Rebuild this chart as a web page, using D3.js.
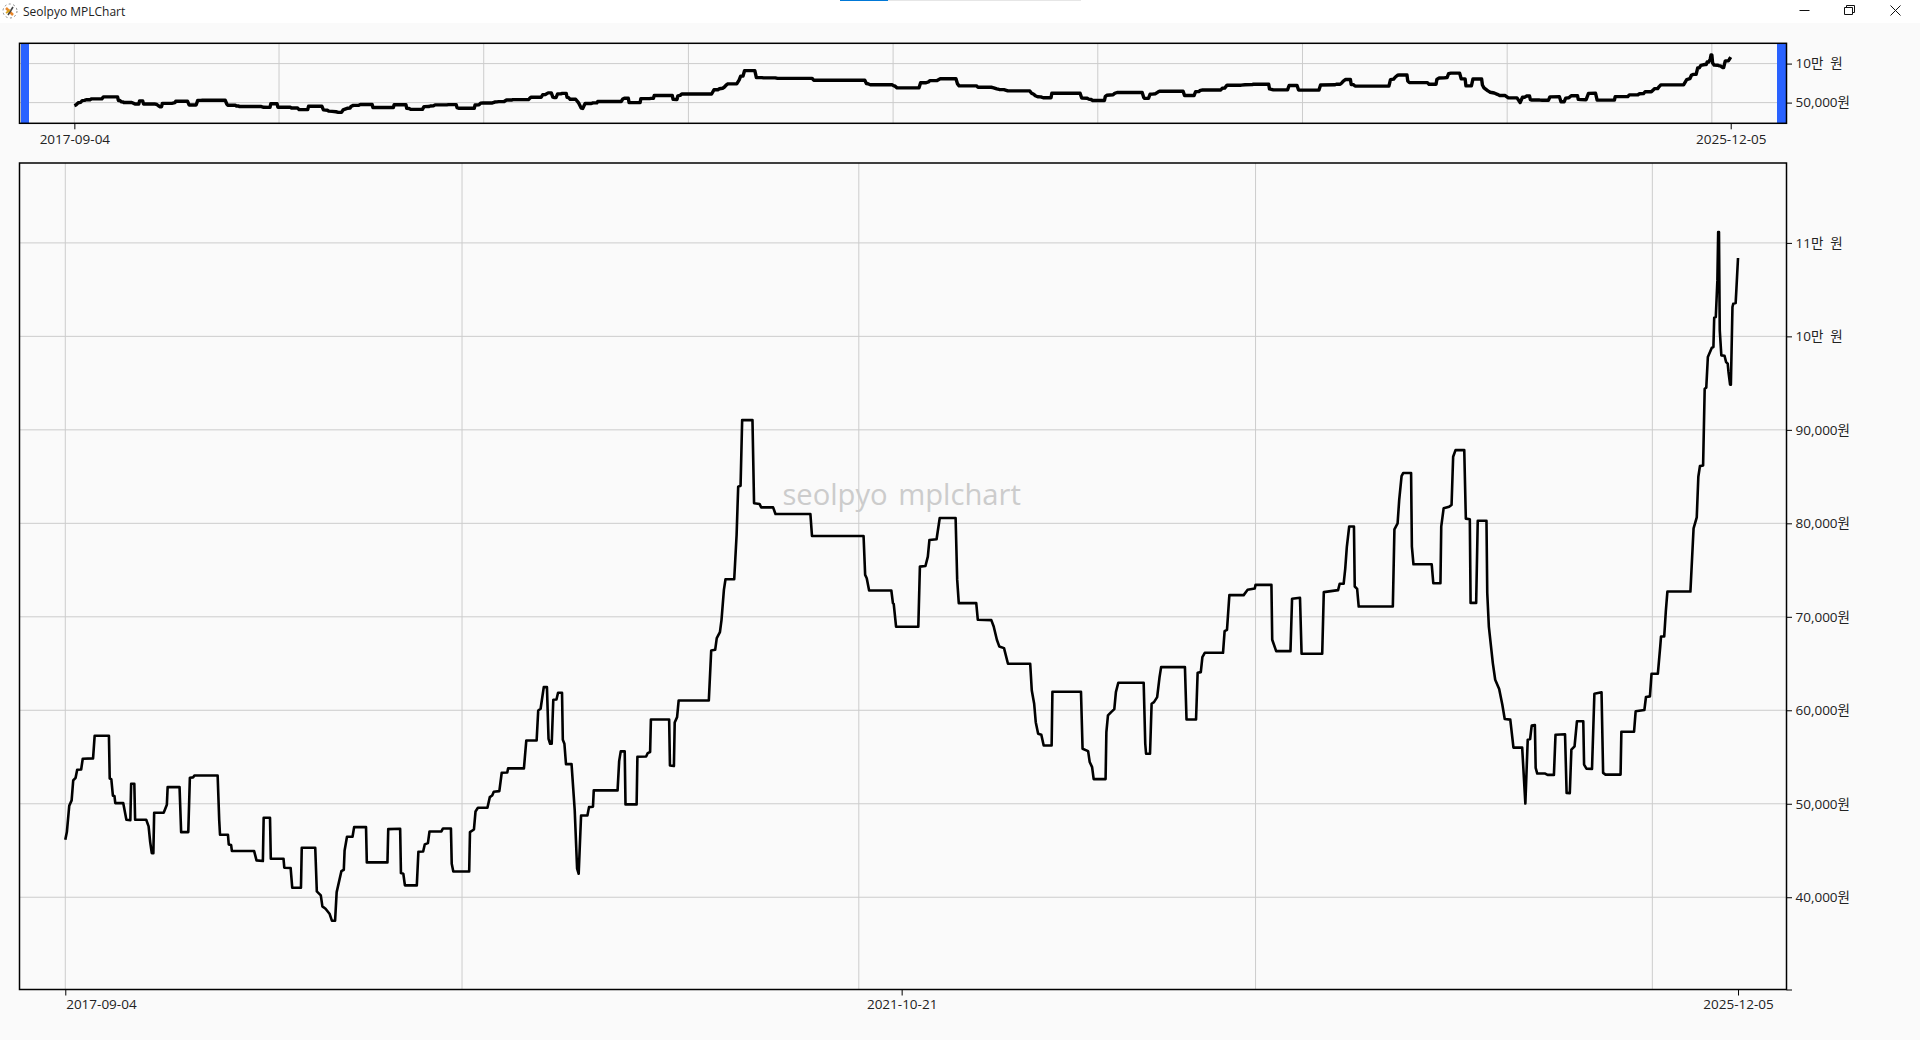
<!DOCTYPE html>
<html><head><meta charset="utf-8">
<script src="https://cdn.jsdelivr.net/npm/d3@7"></script>
<style>
html,body{margin:0;padding:0;background:#fafafa;overflow:hidden}
svg{display:block}
text{font-family:"Open Sans","Noto Sans CJK KR",sans-serif;fill:#222}
</style></head><body><svg id="c" width="1920" height="1040"></svg>
<script>
const appTitle = "Seolpyo MPLChart";
const watermark = "seolpyo mplchart";
const dateLabels = ["2017-09-04", "2021-10-21", "2025-12-05"];
const lastSession = 2108;
const sessions = [0,2,5,8,10,13,15,20,22,35,37,55,56,58,60,62,63,73,77,82,83,87,88,102,105,107,109,111,112,124,128,129,144,146,155,157,161,163,192,194,195,205,206,209,210,238,241,249,250,258,259,275,276,284,286,297,298,315,317,322,324,328,333,336,340,342,348,351,352,355,362,364,379,380,406,407,422,423,426,428,443,445,451,453,457,459,474,476,486,487,489,509,510,515,517,520,532,535,538,540,547,550,557,558,578,579,581,594,596,599,603,607,609,611,613,615,619,621,626,627,629,631,638,642,645,647,650,658,660,665,666,696,698,700,705,706,720,721,732,734,737,738,761,762,767,768,771,773,811,814,819,821,825,827,830,832,843,846,848,851,853,866,868,875,877,892,895,939,941,1006,1008,1010,1013,1041,1043,1044,1047,1075,1077,1084,1087,1089,1098,1102,1122,1124,1126,1148,1150,1167,1170,1174,1177,1183,1188,1216,1218,1221,1223,1226,1230,1233,1243,1244,1280,1282,1289,1291,1294,1296,1311,1312,1314,1318,1322,1324,1327,1359,1361,1362,1367,1369,1372,1376,1379,1381,1411,1413,1425,1427,1431,1433,1436,1459,1461,1464,1467,1485,1490,1499,1500,1520,1521,1526,1544,1546,1556,1558,1584,1586,1604,1606,1611,1613,1615,1618,1624,1625,1628,1630,1673,1675,1679,1681,1684,1686,1696,1697,1699,1722,1724,1733,1734,1737,1744,1747,1749,1752,1763,1765,1770,1771,1778,1780,1791,1792,1794,1799,1802,1807,1811,1814,1821,1825,1836,1840,1843,1846,1848,1852,1853,1855,1865,1868,1876,1878,1890,1892,1896,1898,1902,1905,1913,1914,1917,1924,1927,1936,1938,1941,1960,1961,1977,1979,1990,1992,1997,1999,2007,2010,2011,2015,2017,2019,2048,2052,2056,2058,2060,2064,2066,2068,2070,2075,2077,2078,2080,2082,2083,2084,2085,2087,2091,2093,2095,2096,2098,2099,2101,2102,2105,2106,2108];
const closes = [46150,46970,49790,50360,52500,52780,53640,53670,54810,54850,57270,57270,52710,52640,50860,50820,50070,50070,48290,48250,52140,52140,48290,48290,47580,45900,44720,44720,49040,49040,49890,51780,51780,46970,46970,52780,52820,53030,53030,48220,46680,46680,45650,45580,44940,44940,43940,43870,48500,48500,44120,44120,43160,43120,41020,41020,45290,45290,40620,40200,39020,38770,38240,37490,37490,40550,42800,42940,45010,46470,46470,47500,47500,43730,43730,47290,47330,42580,42510,41270,41270,44870,44900,45650,45790,47040,47040,47360,47360,43580,42760,42760,46970,47250,49180,49570,49570,50710,50890,51280,51350,53320,53350,53780,53780,54810,56770,56770,59980,60160,62480,62480,56950,56420,56420,61120,61160,61870,61870,56840,56420,54240,54240,49290,43050,42510,48750,48750,49640,49680,51430,51430,54560,55600,55600,49930,49930,55030,55060,55420,55530,59020,59020,54100,54030,58700,59270,61050,61050,66400,66470,67720,68360,69680,72880,74020,74020,78750,83920,84020,91040,91040,82140,82060,81710,81710,81000,81000,78650,78650,74480,74130,72810,72810,71460,71380,68930,68930,75370,75440,76440,78220,78290,80570,80570,73950,71460,71460,69680,69640,68960,67540,66830,66650,64980,64980,62120,60700,58730,57490,57380,56240,56240,61980,61980,55880,55630,54460,53920,52640,52640,57660,59450,59800,60120,61940,62940,62940,56420,55350,55350,60700,60870,61410,63550,64620,64620,59020,59020,64010,64080,65690,66150,66150,68470,68610,72320,72320,72890,73030,73420,73420,67540,66330,66330,71930,72030,66040,66040,72640,72850,73530,73530,75130,77450,79660,79660,73240,72990,71100,71100,79360,80000,82490,85050,85380,85380,77510,75620,75620,73590,73590,79640,81600,81780,81960,87120,87830,87830,80500,80430,71490,71490,80280,80280,72520,68960,65050,63270,62270,60600,59070,59000,56010,56010,50020,56860,56930,58360,58430,53830,53230,53230,53090,53090,57390,57430,51160,51130,55790,56150,58820,58820,54190,53760,53730,61770,61920,53300,53120,53120,57710,57710,59890,60030,61420,61490,63910,63910,66830,67900,67900,70570,72700,72700,79470,80640,84980,86120,86190,94400,94510,97790,98790,98860,102000,102070,105990,111160,111160,100640,97970,97930,97250,97080,96190,94830,94830,103140,103490,103560,105100,108380];
const mainPriceTicks = [40000,50000,60000,70000,80000,90000,100000,110000];
const miniPriceTicks = [50000,100000];
const mainGridSessions = [0,500,1000,1500,2000];
const miniGridSessions = [0,260.5,521,781.5,1042,1302.5,1563,1823.5,2084];
const mainFloorPrice = 30130;

const fmt = v => v >= 100000 ? (v/10000)+"만  원" : d3.format(",")(v)+"원";
const svg = d3.select("#c");
const pts = sessions.map((s,i)=>[s,closes[i]]);

// window chrome
svg.append("rect").attr("width",1920).attr("height",23).attr("fill","#fff");
svg.append("text").attr("x",23).attr("y",15.5).attr("font-size",12).text(appTitle);
svg.append("circle").attr("cx",10).attr("cy",11).attr("r",7).attr("fill","none").attr("stroke","#888").attr("stroke-dasharray","2 2.5");
svg.append("path").attr("d","M6 8L13 15").attr("stroke","#e8862a").attr("stroke-width",2.5);
svg.append("path").attr("d","M8 15L13 7").attr("stroke","#444").attr("stroke-width",1.6);
svg.append("path").attr("d","M6 13L10 10").attr("stroke","#d9a520").attr("stroke-width",1.6);
svg.append("rect").attr("x",840).attr("y",0).attr("width",48).attr("height",1).attr("fill","#0078d7");
svg.append("rect").attr("x",888).attr("y",0).attr("width",193).attr("height",1).attr("fill","#e6e6e6");
svg.append("path").attr("d","M1799.5 10.5H1809.5").attr("stroke","#111").attr("fill","none");
svg.append("path").attr("d","M1844.5 7.5H1852.5V14.5H1844.5ZM1846.5 7.5V5.5H1854.5V12.5H1852.5").attr("stroke","#111").attr("fill","none");
svg.append("path").attr("d","M1890.5 5.5L1900.5 15.5M1900.5 5.5L1890.5 15.5").attr("stroke","#111").attr("fill","none");

function panel(cfg){
  const {L,R,T,B,xS,yS,grid,labelTicks,prTicks,lw,xPad,floor} = cfg;
  const g = svg.append("g");
  g.selectAll(".gv").data(grid).join("line").attr("x1",d=>xS(d)).attr("x2",d=>xS(d)).attr("y1",T).attr("y2",B).attr("stroke","#cccccc");
  g.selectAll(".gh").data(prTicks).join("line").attr("x1",L).attr("x2",R).attr("y1",d=>yS(d)).attr("y2",d=>yS(d)).attr("stroke","#cccccc");
  cfg.extra && cfg.extra(g);
  g.append("path").datum(pts).attr("fill","none").attr("stroke","#000").attr("stroke-width",lw).attr("stroke-linejoin","round")
   .attr("d",d3.line().x(d=>xS(d[0])).y(d=>yS(d[1])));
  g.append("rect").attr("x",L).attr("y",T).attr("width",R-L).attr("height",B-T).attr("fill","none").attr("stroke","#000").attr("stroke-width",1.5);
  const yVals = floor ? prTicks.concat(floor) : prTicks;
  const yAxis = d3.axisRight(yS).tickValues(yVals).tickFormat(v=>v===floor?"":fmt(v)).tickSize(5.5).tickPadding(3.5);
  const ya = svg.append("g").attr("transform",`translate(${R},0)`).call(yAxis);
  ya.select(".domain").remove();
  ya.selectAll("line").attr("stroke","#000");
  ya.selectAll("text").attr("font-size",13.5).attr("fill","#222").style("white-space","pre");
  const xAxis = d3.axisBottom(xS).tickValues(labelTicks.map(d=>d.s)).tickFormat((d,i)=>labelTicks[i].t).tickSize(6).tickPadding(xPad);
  const xa = svg.append("g").attr("transform",`translate(0,${B})`).call(xAxis);
  xa.select(".domain").remove();
  xa.selectAll("line").attr("stroke","#000");
  xa.selectAll("text").attr("font-size",13.5).attr("fill","#222")
    .attr("text-anchor",(d,i)=>labelTicks[i].a||"middle").attr("x",(d,i)=>labelTicks[i].a?0.4:0);
}

const xMain = d3.scaleLinear().domain([-57.7,2169.1]).range([19.5,1786.5]);
const yMain = d3.scaleLinear().domain([mainFloorPrice,118600]).range([989.5,162.5]);
const xMini = d3.scaleLinear().domain([-69.8,2179]).range([19.5,1786.5]);
const yMini = d3.scaleLinear().domain([23460,126000]).range([123.3,43.3]);

panel({L:19.5,R:1786.5,T:43.3,B:123.3,xS:xMini,yS:yMini,grid:miniGridSessions,prTicks:miniPriceTicks,lw:3.4,xPad:5,
  labelTicks:[{s:0,t:dateLabels[0]},{s:lastSession,t:dateLabels[2]}],
  extra:g=>{
    g.append("rect").attr("x",21).attr("y",43.3).attr("width",8).attr("height",80).attr("fill","#2962ff");
    g.append("rect").attr("x",1777).attr("y",43.3).attr("width",9.5).attr("height",80).attr("fill","#2962ff");
  }});
panel({L:19.5,R:1786.5,T:163,B:989.5,xS:xMain,yS:yMain,grid:mainGridSessions,prTicks:mainPriceTicks,lw:2.6,xPad:3.5,floor:mainFloorPrice,
  labelTicks:[{s:0,t:dateLabels[0],a:"start"},{s:lastSession/2,t:dateLabels[1]},{s:lastSession,t:dateLabels[2]}],
  extra:g=>{
    g.append("text").attr("x",xMain(lastSession/2)).attr("y",505).attr("text-anchor","middle").attr("font-size",29.2).style("fill","#cccccc").style("word-spacing","3px").text(watermark);
  }});
</script></body></html>
